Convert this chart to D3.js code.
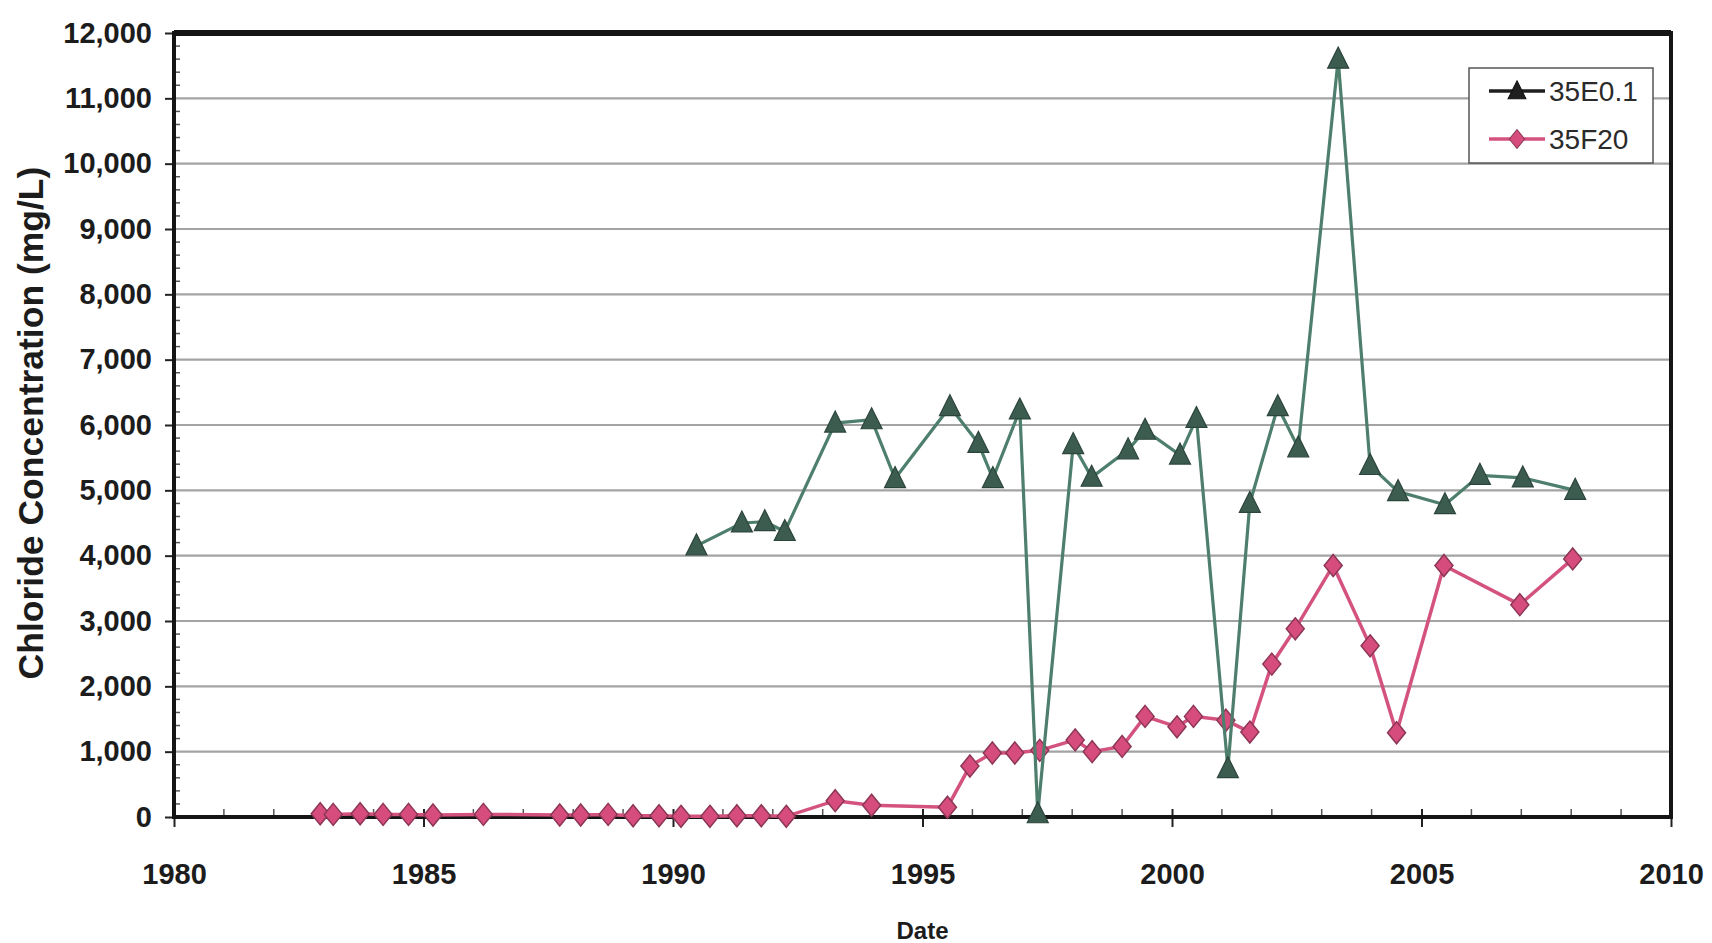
<!DOCTYPE html>
<html>
<head>
<meta charset="utf-8">
<script src="https://cdn.jsdelivr.net/npm/d3@7"></script>
<style>
  html, body { margin: 0; padding: 0; background: #ffffff; }
  svg { display: block; }
</style>
</head>
<body>
<svg id="chart" width="1712" height="943"></svg>
<script>
// ---- data ----
const seriesNames = ["35E0.1", "35F20"];

const e01Dates = [1990.47, 1991.38, 1991.84, 1992.24, 1993.25, 1993.98, 1994.45, 1995.55, 1996.12, 1996.41,
  1996.95, 1997.31, 1998.02, 1998.39, 1999.12, 1999.46, 2000.16, 2000.49, 2001.12, 2001.56,
  2002.12, 2002.53, 2003.33, 2003.97, 2004.53, 2005.47, 2006.17, 2007.03, 2008.08];
const e01Values = [4150, 4500, 4520, 4370, 6030, 6080, 5180, 6280, 5720, 5180,
  6230, 50, 5700, 5200, 5620, 5920, 5540, 6100, 740, 4800,
  6280, 5650, 11600, 5380, 4980, 4780, 5230, 5190, 5000];

const f20Dates = [1982.93, 1983.19, 1983.73, 1984.19, 1984.7, 1985.19, 1986.2, 1987.73, 1988.15, 1988.7,
  1989.2, 1989.72, 1990.16, 1990.74, 1991.28, 1991.77, 1992.27, 1993.25, 1993.98, 1995.5,
  1995.95, 1996.4, 1996.85, 1997.35, 1998.06, 1998.4, 1999.0, 1999.46, 2000.1, 2000.43,
  2001.08, 2001.56, 2002.0, 2002.47, 2003.23, 2003.97, 2004.5, 2005.45, 2006.97, 2008.03];
const f20Values = [50, 40, 50, 40, 40, 30, 40, 30, 30, 40,
  20, 20, 10, 10, 20, 20, 10, 250, 180, 150,
  780, 980, 980, 1020, 1180, 1000, 1080, 1540, 1380, 1540,
  1480, 1300, 2340, 2880, 3850, 2620, 1290, 3850, 3250, 3950];

const yTickValues = [0, 1000, 2000, 3000, 4000, 5000, 6000, 7000, 8000, 9000, 10000, 11000, 12000];
const xTickValues = [1980, 1985, 1990, 1995, 2000, 2005, 2010];
const yTitle = "Chloride Concentration (mg/L)";
const xTitle = "Date";

// ---- layout ----
const svg = d3.select("#chart");
const pL = 174, pR = 1671, pT = 33, pB = 817;
const x = d3.scaleLinear().domain([1980, 2010]).range([pL, pR]);
const y = d3.scaleLinear().domain([0, 12000]).range([pB, pT]);
const FONT = "'Liberation Sans', Arial, Helvetica, sans-serif";

// gridlines
svg.append("g").selectAll("line")
  .data(yTickValues.filter(v => v > 0 && v < 12000))
  .join("line")
  .attr("x1", pL).attr("x2", pR)
  .attr("y1", d => y(d)).attr("y2", d => y(d))
  .attr("stroke", "#a3a3a3").attr("stroke-width", 2.2);

// minor ticks (inside)
const minorY = d3.range(200, 12000, 200).filter(v => v % 1000 !== 0);
svg.append("g").selectAll("line").data(minorY).join("line")
  .attr("x1", pL).attr("x2", pL + 6)
  .attr("y1", d => y(d)).attr("y2", d => y(d))
  .attr("stroke", "#555").attr("stroke-width", 1.5);
const minorX = d3.range(1981, 2010, 1).filter(v => v % 5 !== 0);
svg.append("g").selectAll("line").data(minorX).join("line")
  .attr("x1", d => x(d)).attr("x2", d => x(d))
  .attr("y1", pB).attr("y2", pB - 8)
  .attr("stroke", "#555").attr("stroke-width", 1.5);

// axes
const yAxis = svg.append("g")
  .attr("transform", `translate(${pL},0)`)
  .call(d3.axisLeft(y).tickValues(yTickValues).tickFormat(d3.format(",")).tickSize(9).tickPadding(13));
yAxis.select(".domain").remove();
yAxis.selectAll("line").attr("stroke", "#222").attr("stroke-width", 2);
yAxis.selectAll("text").attr("font-family", FONT).attr("font-size", 29)
  .attr("font-weight", "bold").attr("fill", "#1c1c1c");

const xAxis = svg.append("g")
  .attr("transform", `translate(0,${pB})`)
  .call(d3.axisBottom(x).tickValues(xTickValues).tickFormat(d3.format("d")).tickSize(10).tickPadding(57));
xAxis.select(".domain").remove();
xAxis.selectAll("line").attr("stroke", "#222").attr("stroke-width", 2).attr("y1", -8);
xAxis.selectAll("text").attr("font-family", FONT).attr("font-size", 29)
  .attr("font-weight", "bold").attr("fill", "#1c1c1c").attr("dy", "0");

// frame
svg.append("rect")
  .attr("x", pL).attr("y", pT)
  .attr("width", pR - pL).attr("height", pB - pT)
  .attr("fill", "none").attr("stroke", "#151515").attr("stroke-width", 4);
svg.append("line").attr("x1", pL).attr("x2", pR).attr("y1", pT).attr("y2", pT)
  .attr("stroke", "#151515").attr("stroke-width", 6);

// series
const f20 = f20Dates.map((d, i) => ({ d, v: f20Values[i] }));
const e01 = e01Dates.map((d, i) => ({ d, v: e01Values[i] }));
const line = d3.line().x(p => x(p.d)).y(p => y(p.v));

const pinkLine = "#d4527f", pinkFill = "#d64d7d", pinkEdge = "#8c3656";
const greenLine = "#4e7e6c", greenFill = "#3c5c50", greenEdge = "#2c453c";
const diamond = "M0,-11L9,0L0,11L-9,0Z";
const triangle = "M0,-12L10.5,9L-10.5,9Z";

svg.append("path").datum(f20).attr("d", line)
  .attr("fill", "none").attr("stroke", pinkLine).attr("stroke-width", 3.5);
svg.append("g").selectAll("path").data(f20).join("path")
  .attr("d", diamond)
  .attr("transform", p => `translate(${x(p.d)},${y(p.v)})`)
  .attr("fill", pinkFill).attr("stroke", pinkEdge).attr("stroke-width", 1.5);

svg.append("path").datum(e01).attr("d", line)
  .attr("fill", "none").attr("stroke", greenLine).attr("stroke-width", 3.2);
svg.append("g").selectAll("path").data(e01).join("path")
  .attr("d", triangle)
  .attr("transform", p => `translate(${x(p.d)},${y(p.v)})`)
  .attr("fill", greenFill).attr("stroke", greenEdge).attr("stroke-width", 1.2);

// titles
svg.append("text")
  .attr("transform", `translate(31,${(pT + pB) / 2 - 2}) rotate(-90)`)
  .attr("text-anchor", "middle").attr("dominant-baseline", "central")
  .attr("font-family", FONT).attr("font-size", 35.5).attr("font-weight", "bold")
  .attr("fill", "#1c1c1c").text(yTitle);
svg.append("text")
  .attr("x", (pL + pR) / 2).attr("y", 939)
  .attr("text-anchor", "middle")
  .attr("font-family", FONT).attr("font-size", 24).attr("font-weight", "bold")
  .attr("fill", "#1c1c1c").text(xTitle);

// legend
const lg = svg.append("g");
lg.append("rect").attr("x", 1469).attr("y", 68).attr("width", 184).attr("height", 95)
  .attr("fill", "#ffffff").attr("stroke", "#555").attr("stroke-width", 1.5);
const legendItems = [
  { name: seriesNames[0], color: "#1f1f1f", fill: "#1f1f1f", edge: "#111", shape: triangle, yy: 91 },
  { name: seriesNames[1], color: pinkLine, fill: pinkFill, edge: pinkEdge, shape: diamond, yy: 139 }
];
legendItems.forEach(it => {
  lg.append("line").attr("x1", 1489).attr("x2", 1545).attr("y1", it.yy).attr("y2", it.yy)
    .attr("stroke", it.color).attr("stroke-width", 3.5);
  lg.append("path").attr("d", it.shape)
    .attr("transform", `translate(1517,${it.yy}) scale(0.85)`)
    .attr("fill", it.fill).attr("stroke", it.edge).attr("stroke-width", 1.2);
  lg.append("text").attr("x", 1549).attr("y", it.yy).attr("dominant-baseline", "central")
    .attr("font-family", FONT).attr("font-size", 28).attr("fill", "#2a2a2a").text(it.name);
});
</script>
</body>
</html>
